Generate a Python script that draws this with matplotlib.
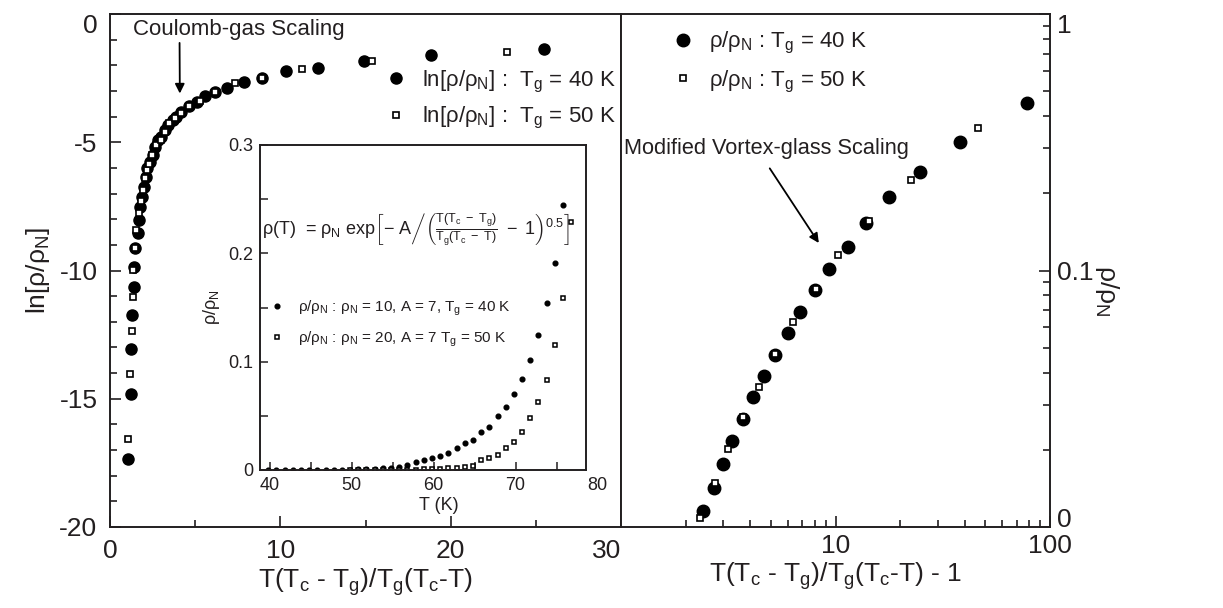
import matplotlib
matplotlib.use("Agg")
import matplotlib.pyplot as plt
from matplotlib.ticker import FixedLocator, LogLocator, NullFormatter

plt.rcParams['font.family'] = 'Liberation Sans'
plt.rcParams['mathtext.fontset'] = 'custom'
plt.rcParams['mathtext.rm'] = 'Liberation Sans'
plt.rcParams['mathtext.it'] = 'Liberation Sans'
plt.rcParams['mathtext.bf'] = 'Liberation Sans:bold'
plt.rcParams['axes.unicode_minus'] = False

TXT = '#231f20'

# ---- left panel: Coulomb-gas scaling, ln(rho/rhoN) vs T(Tc-Tg)/Tg(Tc-T)
cg40_x = [1.07, 1.21, 1.21, 1.31, 1.38, 1.40, 1.46, 1.62, 1.70, 1.79, 1.89, 1.99,
          2.10, 2.20, 2.34, 2.50, 2.63, 2.83, 3.02, 3.22, 3.41, 3.70, 3.90, 4.19,
          4.62, 5.10, 5.56, 6.18, 6.86, 7.84, 8.90, 10.33, 12.23, 14.94, 18.87, 25.50]
cg40_y = [-17.36, -14.81, -13.07, -11.73, -10.66, -9.85, -9.14, -8.55, -8.03, -7.51,
          -7.12, -6.73, -6.34, -6.02, -5.76, -5.50, -5.17, -4.91, -4.78, -4.52, -4.33,
          -4.13, -4.03, -3.81, -3.59, -3.42, -3.20, -3.03, -2.87, -2.64, -2.48, -2.23,
          -2.09, -1.85, -1.60, -1.38]
cg50_x = [1.07, 1.17, 1.31, 1.33, 1.36, 1.44, 1.55, 1.72, 1.84, 1.95, 2.08, 2.20,
          2.30, 2.47, 2.70, 3.02, 3.20, 3.47, 3.80, 4.15, 4.62, 5.26, 6.18, 7.35,
          8.90, 11.25, 15.36, 23.30]
cg50_y = [-16.57, -14.04, -12.35, -11.02, -9.98, -9.12, -8.42, -7.77, -7.30, -6.85,
          -6.40, -6.10, -5.85, -5.50, -5.12, -4.91, -4.60, -4.26, -4.05, -3.85, -3.60,
          -3.38, -3.04, -2.70, -2.48, -2.16, -1.83, -1.47]
cg_xticks = [0, 10, 20, 30]
cg_yticks = [-20, -15, -10, -5, 0]

# ---- inset: rho/rhoN vs T (K)
in40_T = [39.8, 40.8, 41.8, 42.8, 43.8, 44.8, 45.8, 46.8, 47.8, 48.8, 49.8, 50.8,
          51.8, 52.8, 53.8, 54.8, 55.8, 56.8, 57.8, 58.8, 59.8, 60.8, 61.8, 62.8,
          63.8, 64.8, 65.8, 66.8, 67.8, 68.8, 69.8, 70.8, 71.8, 72.8, 73.8, 74.8, 75.8]
in40_v = [0.0, 0.0, 0.0, 0.0, 0.0, 0.0, 0.0, 0.0, 0.0, 0.0, 0.0, 0.0005,
          0.0008, 0.001, 0.0015, 0.002, 0.003, 0.005, 0.007, 0.009, 0.011, 0.013,
          0.016, 0.020, 0.025, 0.028, 0.035, 0.040, 0.050, 0.058, 0.070, 0.084,
          0.102, 0.125, 0.154, 0.191, 0.245]
in50_T = [49.8, 50.8, 51.8, 52.8, 53.8, 54.8, 55.8, 56.8, 57.8, 58.8, 59.8, 60.8,
          61.8, 62.8, 63.8, 64.8, 65.8, 66.8, 67.8, 68.8, 69.8, 70.8, 71.8, 72.8,
          73.8, 74.8, 75.8, 76.8]
in50_v = [0.0, 0.0, 0.0, 0.0, 0.0, 0.0, 0.0, 0.0, 0.0, 0.0005, 0.0008, 0.001,
          0.0015, 0.002, 0.003, 0.004, 0.009, 0.011, 0.014, 0.020, 0.026, 0.035,
          0.048, 0.063, 0.083, 0.115, 0.159, 0.229]

# ---- right panel: modified vortex-glass scaling, rho/rhoN vs x - 1
vg40_x = [2.41, 2.70, 2.99, 3.29, 3.69, 4.12, 4.66, 5.24, 6.01, 6.86, 8.06, 9.35,
          11.38, 13.81, 17.82, 24.77, 37.96, 78.07]
vg40_y = [0.01155, 0.01424, 0.01763, 0.02168, 0.02634, 0.03200, 0.03890, 0.04698,
          0.05709, 0.06899, 0.08376, 0.1018, 0.1233, 0.1526, 0.1929, 0.2430, 0.3182, 0.4491]
vg50_x = [2.34, 2.75, 3.15, 3.69, 4.38, 5.24, 6.34, 8.12, 10.29, 14.31, 22.41, 45.93]
vg50_y = [0.01081, 0.01481, 0.02012, 0.02683, 0.03514, 0.04741, 0.06281, 0.0845,
          0.1145, 0.1558, 0.2252, 0.3586]

W, H = 1223, 608
fig = plt.figure(figsize=(W / 100, H / 100), dpi=100)
ax1 = fig.add_axes([110 / W, 1 - 527 / H, 511 / W, 513 / H])
ax2 = fig.add_axes([621 / W, 1 - 527 / H, 429 / W, 513 / H])
ax3 = fig.add_axes([260 / W, 1 - 470 / H, 326 / W, 325 / H])

for a in (ax1, ax2, ax3):
    for s in a.spines.values():
        s.set_linewidth(1.4)
        s.set_color(TXT)

# left panel
ax1.plot(cg40_x, cg40_y, 'o', color='black', ms=8, ls='none',
         label=r'ln[$\rho/\rho_N$] :  T$_g$ = 40 K')
ax1.plot(cg50_x, cg50_y, 's', mfc='white', mec='black', mew=1.2, ms=4.3, ls='none',
         label=r'ln[$\rho/\rho_N$] :  T$_g$ = 50 K')
ax1.set_xlim(0, 30)
ax1.set_ylim(-20, 0)
ax1.xaxis.set_major_locator(FixedLocator(cg_xticks))
ax1.xaxis.set_minor_locator(FixedLocator([5, 15, 25]))
ax1.yaxis.set_major_locator(FixedLocator(cg_yticks))
ax1.yaxis.set_minor_locator(FixedLocator([v for v in range(-19, 0) if v % 5]))
ax1.set_xticklabels([str(v) for v in cg_xticks])
ax1.set_yticklabels([str(v) for v in cg_yticks])
ax1.get_xticklabels()[-1].set_horizontalalignment('right')
ax1.get_yticklabels()[-1].set_verticalalignment('top')
ax1.tick_params(which='both', direction='in', labelsize=19, colors=TXT, width=1.2)
ax1.tick_params(which='major', length=8, pad=9)
ax1.tick_params(which='minor', length=5)
ax1.set_xlabel(r'T(T$_c$ - T$_g$)/T$_g$(T$_c$-T)', fontsize=19, color=TXT, labelpad=2)
ax1.set_ylabel(r'ln[$\rho/\rho_N$]', fontsize=19, color=TXT)
ax1.yaxis.set_label_coords(-0.113, 0.5)
ax1.legend(loc='upper left', bbox_to_anchor=(0.52, 0.915), frameon=False,
           fontsize=16, handlelength=0.8, handletextpad=0.8, labelspacing=0.45,
           borderpad=0, labelcolor=TXT)
ax1.annotate('Coulomb-gas Scaling', xy=(4.1, -3.1), xytext=(1.35, -0.2),
             fontsize=16, color=TXT, va='top',
             arrowprops=dict(arrowstyle='-|>', color='black', lw=1.3,
                             shrinkA=0, shrinkB=0, mutation_scale=14,
                             relpos=(0.22, 0.0)))

# inset
ax3.plot(in40_T, in40_v, 'o', color='black', ms=3.4, ls='none',
         label=r'$\rho/\rho_N$ : $\rho_N$ = 10, A = 7, T$_g$ = 40 K')
ax3.plot(in50_T, in50_v, 's', mfc='white', mec='black', mew=1.1, ms=3.2, ls='none',
         label=r'$\rho/\rho_N$ : $\rho_N$ = 20, A = 7 T$_g$ = 50 K')
ax3.set_xlim(38.8, 78.6)
ax3.set_ylim(0, 0.3)
ax3.xaxis.set_major_locator(FixedLocator([40, 50, 60, 70]))
ax3.xaxis.set_minor_locator(FixedLocator([45, 55, 65, 75]))
ax3.yaxis.set_major_locator(FixedLocator([0, 0.1, 0.2, 0.3]))
ax3.yaxis.set_minor_locator(FixedLocator([0.05, 0.15, 0.25]))
ax3.set_yticklabels(['0', '0.1', '0.2', '0.3'])
ax3.tick_params(which='both', direction='in', labelsize=13, colors=TXT, width=1.1)
ax3.tick_params(which='major', length=6, pad=5)
ax3.tick_params(which='minor', length=6)
ax3.annotate('80', xy=(80, 0), xycoords=('data', 'axes fraction'), xytext=(0, -5),
             textcoords='offset points', fontsize=13, color=TXT,
             ha='center', va='top', annotation_clip=False)
ax3.set_xlabel('T (K)', fontsize=13, color=TXT)
ax3.xaxis.set_label_coords(0.55, -0.082)
ax3.set_ylabel(r'$\rho/\rho_N$', fontsize=13, color=TXT, labelpad=4)
ax3.legend(loc='upper left', bbox_to_anchor=(0.01, 0.55), frameon=False,
           fontsize=11, handlelength=0.8, handletextpad=1.0, labelspacing=0.75,
           borderpad=0, labelcolor=TXT)
ax3.text(0.006, 0.74,
         r'$\rho$(T)  = $\rho_N$ exp$\left[-\ A\left/\left(\frac{T(T_c\ -\ T_g)}{T_g(T_c\ -\ T)}\ -\ 1\right)^{0.5}\right.\right]$',
         transform=ax3.transAxes, fontsize=13, color=TXT, va='center', ha='left')

# right panel
ax2.plot(vg40_x, vg40_y, 'o', color='black', ms=9, ls='none',
         label=r'$\rho/\rho_N$ : T$_g$ = 40 K')
ax2.plot(vg50_x, vg50_y, 's', mfc='white', mec='black', mew=1.2, ms=4.3, ls='none',
         label=r'$\rho/\rho_N$ : T$_g$ = 50 K')
ax2.set_xscale('log')
ax2.set_yscale('log')
ax2.set_xlim(1, 100)
ax2.set_ylim(0.01, 1)
ax2.xaxis.set_major_locator(FixedLocator([10, 100]))
ax2.xaxis.set_minor_locator(LogLocator(base=10, subs=range(2, 10)))
ax2.xaxis.set_minor_formatter(NullFormatter())
ax2.set_xticklabels(['10', '100'])
ax2.yaxis.tick_right()
ax2.yaxis.set_label_position('right')
ax2.yaxis.set_major_locator(FixedLocator([0.01, 0.1, 1]))
ax2.yaxis.set_minor_locator(LogLocator(base=10, subs=range(2, 10)))
ax2.yaxis.set_minor_formatter(NullFormatter())
ax2.set_yticklabels(['0', '0.1', '1'])
ax2.get_yticklabels()[-1].set_verticalalignment('top')
ax2.get_yticklabels()[0].set_verticalalignment('baseline')
ax2.tick_params(which='both', direction='in', labelsize=19, colors=TXT, width=1.2)
ax2.tick_params(which='major', length=8, pad=5)
ax2.tick_params(which='minor', length=5)
ax2.set_xlabel(r'T(T$_c$ - T$_g$)/T$_g$(T$_c$-T) - 1', fontsize=19, color=TXT, labelpad=2)
ax2.set_ylabel(r'$\rho/\rho_N$', fontsize=19, color=TXT, rotation=270)
ax2.yaxis.set_label_coords(1.165, 0.46)
ax2.legend(loc='upper left', bbox_to_anchor=(0.099, 0.99), frameon=False,
           fontsize=16, handlelength=0.8, handletextpad=0.75, labelspacing=0.55,
           borderpad=0, labelcolor=TXT)
ax2.annotate('Modified Vortex-glass Scaling', xy=(8.36, 0.128), xytext=(1.03, 0.30),
             fontsize=15.7, color=TXT, va='center',
             arrowprops=dict(arrowstyle='-|>', color='black', lw=1.3,
                             shrinkA=6, shrinkB=0, mutation_scale=14,
                             relpos=(0.49, 0.0)))

fig.savefig('out.png', dpi=100)
